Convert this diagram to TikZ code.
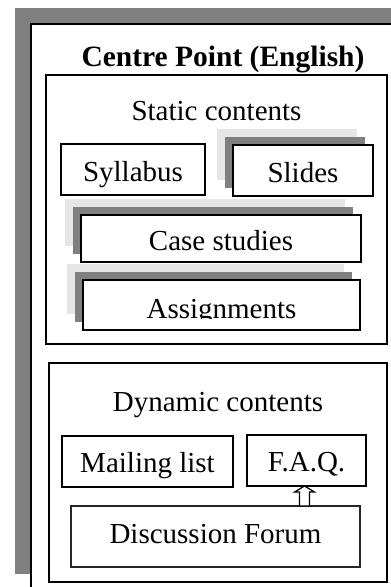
\documentclass[tikz,border=0pt]{standalone}
\usepackage{fontspec}
\setmainfont{Liberation Serif}
\usetikzlibrary{calc, positioning, shadows}
\definecolor{shadedark}{RGB}{128,128,128}
\definecolor{shadelight}{RGB}{230,230,230}
\begin{document}
\begin{tikzpicture}[x=1pt, y=-1pt, outer sep=0pt, font=\fontsize{29}{35}\selectfont]

\tikzstyle{frame}=[rectangle,draw,line width=1.8pt,anchor=north west,inner sep=0pt]
\tikzstyle{box}=[frame,line width=1.7pt,fill=white,text height=23pt,text depth=0pt]
\tikzstyle{shadowbox}=[box,copy shadow={shadow xshift=-16pt,shadow yshift=16pt,fill=shadelight,draw=none},copy shadow={shadow xshift=-8pt,shadow yshift=8pt,fill=shadedark,draw=none}]

\clip (0,0) rectangle (391,587);
\fill[shadedark] (15,8) rectangle (420,574);
\node[frame,line width=2pt,fill=white,minimum width=400pt,minimum height=600pt] (centre) at (31,24) {};
\node[anchor=base,font=\fontsize{29.5}{35}\selectfont\bfseries] (title) at (223,66) {Centre Point (English)};

\node[frame,minimum width=341pt,minimum height=269pt] (static) at (46,75) {};
\node[anchor=base] (statictitle) at ($(static.north)+(0,45)$) {Static contents};
\node[box,minimum width=144pt,minimum height=51pt] (syllabus) at (61,144) {Syllabus};
\node[shadowbox,minimum width=140pt,minimum height=51pt] (slides) at (233,145) {Slides};
\node[shadowbox,minimum width=280pt,minimum height=47pt] (cases) at (81,215) {Case studies};
\node[shadowbox,minimum width=277pt,minimum height=50pt] (assign) at (83,280) {};
\begin{scope}
\clip (assign.north west) rectangle ($(assign.south east)+(0,-12)$);
\node[anchor=base] (assigntext) at ($(assign.south)+(0,-12)$) {Assignments};
\end{scope}

\node[frame,minimum width=338pt,minimum height=219pt] (dynamic) at (49,363) {};
\node[anchor=base] (dynamictitle) at ($(dynamic.north)+(0,48)$) {Dynamic contents};
\node[box,text height=21pt,minimum width=171pt,minimum height=51pt] (mailing) at (62,436) {Mailing list};
\node[box,text height=21pt,minimum width=119pt,minimum height=51pt] (faq) at (247,435) {F.A.Q.};
\node[box,text height=13pt,draw=black!85,line width=1.1pt,minimum width=289pt,minimum height=61pt] (forum) at (71,506) {Discussion Forum};

\coordinate (tip) at ($(faq.south)+(-2,0)$);
\draw[line width=1.2pt,fill=white] (tip) -- ++(10,6) -- ++(-5,0) -- ($(tip |- forum.north)+(5,0)$) -- ++(-10,0) -- ($(tip)+(-5,6)$) -- ++(-5,0) -- cycle;
\end{tikzpicture}
\end{document}
